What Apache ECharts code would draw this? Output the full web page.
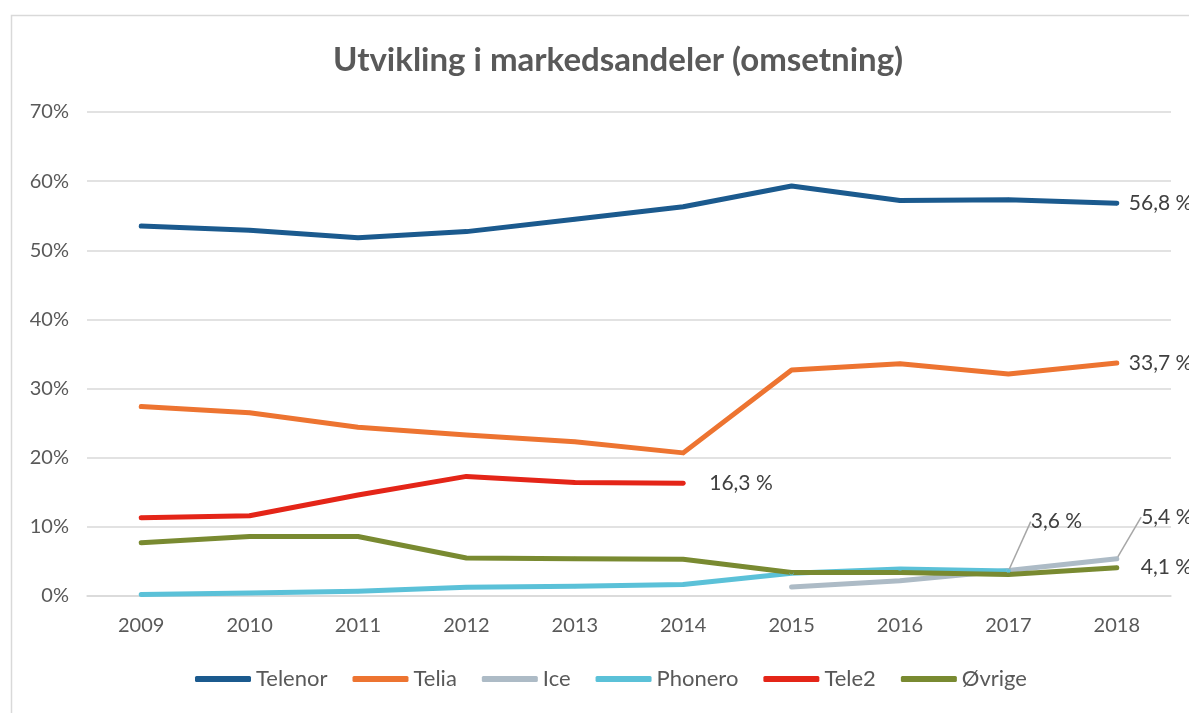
<!DOCTYPE html>
<html>
<head>
<meta charset="utf-8">
<title>Utvikling i markedsandeler</title>
<script src="https://cdn.jsdelivr.net/npm/echarts@6/dist/echarts.min.js"></script>
<style>
    html, body {margin: 0; padding: 0; background: #fff;}
    #main {width: 1189px; height: 713px;}
</style>
</head>
<body>
<div id="main"></div>
<script>
    var years = ['2009', '2010', '2011', '2012', '2013', '2014', '2015', '2016', '2017', '2018'];
    var telenor = [53.5, 52.9, 51.8, 52.7, 54.5, 56.3, 59.3, 57.2, 57.3, 56.8];
    var telia = [27.4, 26.5, 24.4, 23.3, 22.3, 20.7, 32.7, 33.6, 32.1, 33.7];
    var ice = [null, null, null, null, null, null, 1.3, 2.2, 3.7, 5.4];
    var phonero = [0.2, 0.45, 0.7, 1.25, 1.4, 1.65, 3.3, 3.9, 3.6, null];
    var tele2 = [11.3, 11.6, 14.6, 17.3, 16.4, 16.3, null, null, null, null];
    var ovrige = [7.7, 8.6, 8.6, 5.5, 5.4, 5.3, 3.4, 3.4, 3.1, 4.1];
    var yTicks = [0, 10, 20, 30, 40, 50, 60, 70];

    var font = 'Lato, "Open Sans", sans-serif';

    function fmt(v) {
        return v.toFixed(1).replace('.', ',') + ' %';
    }

    // label only the last value of each line
    function withLastLabel(values, label) {
        var last = -1;
        values.forEach(function (v, i) { if (v !== null) last = i; });
        return values.map(function (v, i) {
            if (i !== last) return v;
            return {value: v, label: Object.assign({show: true, formatter: function (p) { return fmt(p.value); }}, label)};
        });
    }

    function line(name, color, values, label, extra) {
        return Object.assign({
            name: name,
            type: 'line',
            data: withLastLabel(values, label),
            symbol: 'circle',
            symbolSize: 4,
            showSymbol: true,
            itemStyle: {color: color},
            lineStyle: {color: color, width: 5, cap: 'round', join: 'round'},
            label: {show: false, color: '#404040', fontSize: 21, fontFamily: font},
            emphasis: {disabled: true},
            connectNulls: false
        }, extra || {});
    }

    var chart = echarts.init(document.getElementById('main'));
    chart.setOption({
        animation: false,
        backgroundColor: '#fff',
        graphic: [{
            type: 'rect', left: 9, top: 13,
            shape: {width: 1220, height: 740},
            style: {fill: 'none', stroke: '#d9d9d9', lineWidth: 1.5},
            silent: true
        }],
        title: {
            text: 'Utvikling i markedsandeler (omsetning)',
            left: 328, top: 39,
            textStyle: {color: '#595959', fontSize: 33, fontWeight: 'bold', fontFamily: font}
        },
        legend: {
            bottom: 18, left: 190,
            itemWidth: 56, itemHeight: 6, itemGap: 25,
            icon: 'roundRect',
            textStyle: {color: '#595959', fontSize: 22, fontFamily: font},
            data: ['Telenor', 'Telia', 'Ice', 'Phonero', 'Tele2', 'Øvrige']
        },
        grid: {left: 87, right: 18, top: 112, bottom: 117},
        xAxis: {
            type: 'category', data: years, boundaryGap: true,
            axisLine: {lineStyle: {color: '#d9d9d9', width: 1.5}},
            axisTick: {show: false},
            axisLabel: {color: '#595959', fontSize: 20, fontFamily: font, margin: 20}
        },
        yAxis: {
            type: 'value', min: yTicks[0], max: yTicks[yTicks.length - 1], interval: 10,
            axisLine: {show: false}, axisTick: {show: false},
            splitLine: {lineStyle: {color: '#d9d9d9', width: 1.5}},
            axisLabel: {color: '#595959', fontSize: 20, fontFamily: font, margin: 18, formatter: '{value}%'}
        },
        series: [
            line('Telenor', '#1b5a8e', telenor, {position: 'right', distance: 10}),
            line('Telia', '#ed7431', telia, {position: 'right', distance: 10}),
            line('Ice', '#adbbc6', ice, {position: 'top'}, {
                labelLayout: {dx: 50, dy: -24},
                labelLine: {show: true, length2: 0, lineStyle: {color: '#a6a6a6', width: 1.5}}
            }),
            line('Phonero', '#5bc1d8', phonero, {position: 'top'}, {
                labelLayout: {dx: 48, dy: -32},
                labelLine: {show: true, length2: 0, lineStyle: {color: '#a6a6a6', width: 1.5}}
            }),
            line('Tele2', '#e42518', tele2, {position: 'right', distance: 24}),
            line('Øvrige', '#798a31', ovrige, {position: 'right', distance: 22})
        ]
    });
</script>
</body>
</html>
